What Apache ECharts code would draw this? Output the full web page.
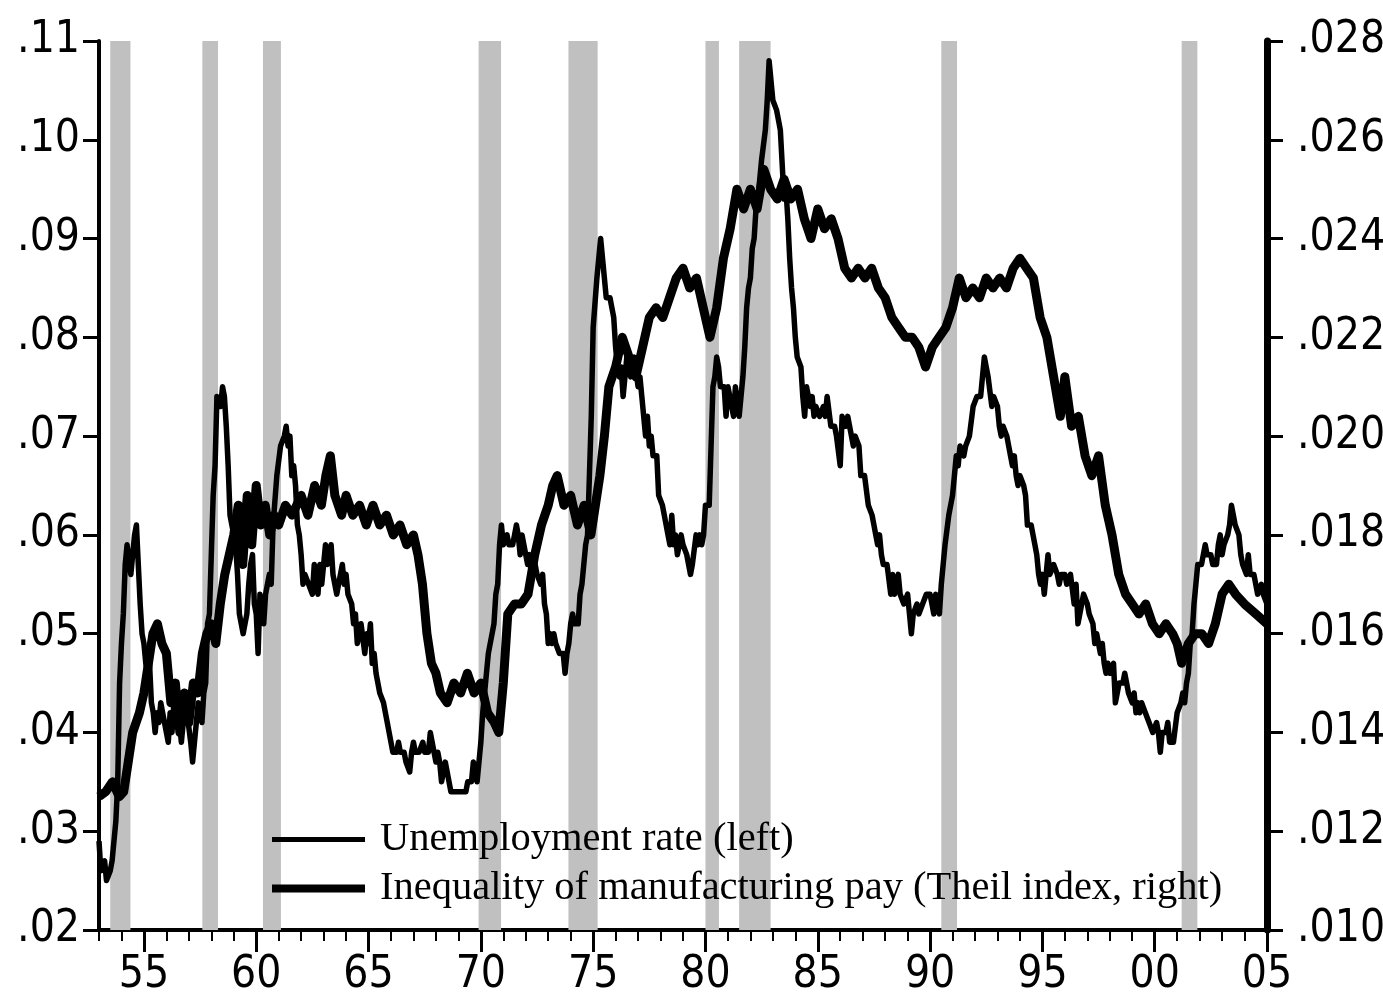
<!DOCTYPE html>
<html>
<head>
<meta charset="utf-8">
<script src="https://cdn.jsdelivr.net/npm/echarts@6/dist/echarts.min.js"></script>
<style>
  html, body { margin: 0; padding: 0; background: #fff; }
  #chart { width: 1383px; height: 1002px; }
</style>
</head>
<body>
<div id="chart"></div>
<script>
// monthly unemployment rate in percent, Jan 1953 .. Jan 2005 (one row per year)
const unempStart = 1953;
const unempRate = [
  2.9,2.6,2.6,2.7,2.5,2.5,2.6,2.7,2.9,3.1,3.5,4.5,
  4.9,5.2,5.7,5.9,5.9,5.6,5.8,6.0,6.1,5.7,5.3,5.0,
  4.9,4.7,4.6,4.7,4.3,4.2,4.0,4.2,4.1,4.3,4.2,4.2,
  4.0,3.9,4.2,4.0,4.3,4.3,4.4,4.1,3.9,3.9,4.3,4.2,
  4.2,3.9,3.7,3.9,4.1,4.3,4.2,4.1,4.4,4.5,5.1,5.2,
  5.8,6.4,6.7,7.4,7.4,7.3,7.5,7.4,7.1,6.7,6.2,6.2,
  6.0,5.9,5.6,5.2,5.1,5.0,5.1,5.2,5.5,5.7,5.8,5.3,
  5.2,4.8,5.4,5.2,5.1,5.4,5.5,5.6,5.5,6.1,6.1,6.6,
  6.6,6.9,6.9,7.0,7.1,6.9,7.0,6.6,6.7,6.5,6.1,6.0,
  5.8,5.5,5.6,5.6,5.5,5.5,5.4,5.7,5.6,5.4,5.7,5.5,
  5.7,5.9,5.7,5.7,5.9,5.6,5.6,5.4,5.5,5.5,5.7,5.5,
  5.6,5.4,5.4,5.3,5.1,5.2,4.9,5.0,5.1,5.1,4.8,5.0,
  4.9,5.1,4.7,4.8,4.6,4.6,4.4,4.4,4.3,4.2,4.1,4.0,
  4.0,3.8,3.8,3.8,3.9,3.8,3.8,3.8,3.7,3.7,3.6,3.8,
  3.9,3.8,3.8,3.8,3.8,3.9,3.8,3.8,3.8,4.0,3.9,3.8,
  3.7,3.8,3.7,3.5,3.5,3.7,3.7,3.5,3.4,3.4,3.4,3.4,
  3.4,3.4,3.4,3.4,3.4,3.5,3.5,3.5,3.7,3.7,3.5,3.5,
  3.9,4.2,4.4,4.6,4.8,4.9,5.0,5.1,5.4,5.5,5.9,6.1,
  5.9,5.9,6.0,5.9,5.9,5.9,6.0,6.1,6.0,5.8,6.0,6.0,
  5.8,5.7,5.8,5.7,5.7,5.7,5.6,5.6,5.5,5.6,5.3,5.2,
  4.9,5.0,4.9,5.0,4.9,4.9,4.8,4.8,4.8,4.6,4.8,4.9,
  5.1,5.2,5.1,5.1,5.1,5.4,5.5,5.5,5.9,6.0,6.6,7.2,
  8.1,8.1,8.6,8.8,9.0,8.8,8.6,8.4,8.4,8.4,8.3,8.2,
  7.9,7.7,7.6,7.7,7.4,7.6,7.8,7.8,7.6,7.7,7.8,7.8,
  7.5,7.6,7.4,7.2,7.0,7.2,6.9,7.0,6.8,6.8,6.8,6.4,
  6.4,6.3,6.3,6.1,6.0,5.9,6.2,5.9,6.0,5.8,5.9,6.0,
  5.9,5.9,5.8,5.8,5.6,5.7,5.7,6.0,5.9,6.0,5.9,6.0,
  6.3,6.3,6.3,6.9,7.5,7.6,7.8,7.7,7.5,7.5,7.5,7.2,
  7.5,7.4,7.4,7.2,7.5,7.5,7.2,7.4,7.6,7.9,8.3,8.5,
  8.6,8.9,9.0,9.3,9.4,9.6,9.8,9.8,10.1,10.4,10.8,10.8,
  10.4,10.4,10.3,10.2,10.1,10.1,9.4,9.5,9.2,8.8,8.5,8.3,
  8.0,7.8,7.8,7.7,7.4,7.2,7.5,7.5,7.3,7.4,7.2,7.3,
  7.3,7.2,7.2,7.3,7.2,7.4,7.4,7.1,7.1,7.1,7.0,7.0,
  6.7,7.2,7.2,7.1,7.2,7.2,7.0,6.9,7.0,7.0,6.9,6.6,
  6.6,6.6,6.6,6.3,6.3,6.2,6.1,6.0,5.9,6.0,5.8,5.7,
  5.7,5.7,5.7,5.4,5.6,5.4,5.4,5.6,5.4,5.4,5.3,5.3,
  5.4,5.2,5.0,5.2,5.2,5.3,5.2,5.2,5.3,5.3,5.4,5.4,
  5.4,5.3,5.2,5.4,5.4,5.2,5.5,5.7,5.9,5.9,6.2,6.3,
  6.4,6.6,6.8,6.7,6.9,6.9,6.8,6.9,6.9,7.0,7.0,7.3,
  7.3,7.4,7.4,7.4,7.6,7.8,7.7,7.6,7.6,7.3,7.4,7.4,
  7.3,7.1,7.0,7.1,7.1,7.0,6.9,6.8,6.7,6.8,6.6,6.5,
  6.6,6.6,6.5,6.4,6.1,6.1,6.1,6.0,5.9,5.8,5.6,5.5,
  5.6,5.4,5.4,5.8,5.6,5.6,5.7,5.7,5.6,5.5,5.6,5.6,
  5.6,5.5,5.5,5.6,5.6,5.3,5.5,5.1,5.2,5.2,5.4,5.4,
  5.3,5.2,5.2,5.1,4.9,5.0,4.9,4.8,4.9,4.7,4.6,4.7,
  4.6,4.6,4.7,4.3,4.4,4.5,4.5,4.5,4.6,4.5,4.4,4.4,
  4.3,4.4,4.2,4.3,4.2,4.3,4.3,4.2,4.2,4.1,4.1,4.0,
  4.0,4.1,4.0,3.8,4.0,4.0,4.0,4.1,3.9,3.9,3.9,3.9,
  4.2,4.2,4.3,4.4,4.3,4.5,4.6,4.9,5.0,5.3,5.5,5.7,
  5.7,5.7,5.7,5.9,5.8,5.8,5.8,5.7,5.7,5.7,5.9,6.0,
  5.8,5.9,5.9,6.0,6.1,6.3,6.2,6.1,6.1,6.0,5.8,5.7,
  5.7,5.6,5.8,5.6,5.6,5.6,5.5,5.4,5.4,5.5,5.4,5.4,
  5.3
];

// Theil index of manufacturing pay
const theilYears = [
  1953.0,1953.3,1953.6,1953.9,1954.1,1954.3,1954.5,1954.8,1955.0,1955.2,
  1955.4,1955.6,1955.8,1956.0,1956.2,1956.4,1956.6,1956.8,1957.0,1957.2,
  1957.4,1957.6,1957.8,1958.0,1958.2,1958.4,1958.6,1958.8,1959.0,1959.2,
  1959.4,1959.6,1959.8,1960.0,1960.2,1960.4,1960.6,1960.8,1961.0,1961.3,
  1961.6,1962.0,1962.3,1962.6,1962.9,1963.1,1963.3,1963.5,1963.8,1964.0,
  1964.3,1964.6,1964.9,1965.2,1965.5,1965.8,1966.1,1966.4,1966.7,1967.0,
  1967.2,1967.4,1967.6,1967.8,1968.0,1968.2,1968.5,1968.8,1969.1,1969.4,
  1969.7,1970.0,1970.3,1970.6,1970.8,1971.0,1971.2,1971.5,1971.8,1972.1,
  1972.4,1972.7,1973.0,1973.2,1973.4,1973.7,1974.0,1974.3,1974.6,1974.9,
  1975.1,1975.3,1975.5,1975.7,1976.0,1976.3,1976.6,1976.9,1977.2,1977.5,
  1977.8,1978.1,1978.4,1978.7,1979.0,1979.3,1979.6,1979.9,1980.2,1980.5,
  1980.8,1981.1,1981.4,1981.7,1982.0,1982.3,1982.6,1982.9,1983.2,1983.5,
  1983.8,1984.1,1984.4,1984.7,1985.0,1985.3,1985.6,1985.9,1986.2,1986.5,
  1986.8,1987.1,1987.4,1987.7,1988.0,1988.3,1988.6,1988.9,1989.2,1989.5,
  1989.8,1990.1,1990.4,1990.7,1991.0,1991.3,1991.6,1991.9,1992.2,1992.5,
  1992.8,1993.1,1993.4,1993.7,1994.0,1994.3,1994.6,1994.9,1995.2,1995.5,
  1995.8,1996.0,1996.3,1996.6,1996.9,1997.2,1997.5,1997.8,1998.1,1998.4,
  1998.7,1999.0,1999.3,1999.6,1999.9,2000.2,2000.5,2000.8,2001.0,2001.2,
  2001.5,2001.8,2002.1,2002.4,2002.7,2003.0,2003.3,2003.6,2004.0,2004.5,
  2005.0
];
const theilIndex = [
  .0127,.0128,.0130,.0127,.0128,.0134,.0140,.0144,.0148,.0154,
  .0160,.0162,.0158,.0156,.0146,.0150,.0140,.0148,.0142,.0150,
  .0148,.0156,.0160,.0162,.0158,.0166,.0172,.0176,.0180,.0186,
  .0174,.0188,.0178,.0190,.0182,.0186,.0180,.0184,.0182,.0186,
  .0184,.0188,.0184,.0190,.0186,.0192,.0196,.0188,.0184,.0188,
  .0184,.0186,.0182,.0186,.0182,.0184,.0180,.0182,.0178,.0180,
  .0176,.0170,.0160,.0154,.0152,.0148,.0146,.0150,.0148,.0152,
  .0148,.0150,.0144,.0142,.0140,.0150,.0164,.0166,.0166,.0168,
  .0176,.0182,.0186,.0190,.0192,.0186,.0188,.0182,.0186,.0180,
  .0186,.0192,.0200,.0210,.0214,.0220,.0216,.0212,.0218,.0224,
  .0226,.0224,.0228,.0232,.0234,.0230,.0232,.0226,.0220,.0226,
  .0236,.0242,.0250,.0246,.0250,.0246,.0254,.0250,.0248,.0252,
  .0248,.0250,.0244,.0240,.0246,.0242,.0244,.0240,.0234,.0232,
  .0234,.0232,.0234,.0230,.0228,.0224,.0222,.0220,.0220,.0218,
  .0214,.0218,.0220,.0222,.0226,.0232,.0228,.0230,.0228,.0232,
  .0230,.0232,.0230,.0234,.0236,.0234,.0232,.0224,.0220,.0212,
  .0204,.0212,.0202,.0204,.0196,.0192,.0196,.0186,.0180,.0172,
  .0168,.0166,.0164,.0166,.0162,.0160,.0162,.0160,.0158,.0154,
  .0158,.0160,.0160,.0158,.0162,.0168,.0170,.0168,.0166,.0164,
  .0162
];

// NBER recessions (shaded)
const recessions = [
  [1953.5, 1954.4], [1957.6, 1958.3], [1960.3, 1961.1], [1969.9, 1970.9],
  [1973.9, 1975.2], [1980.0, 1980.6], [1981.5, 1982.9], [1990.5, 1991.2],
  [2001.2, 2001.9]
];

const majorYears = [1955, 1960, 1965, 1970, 1975, 1980, 1985, 1990, 1995, 2000, 2005];
const allYears = [];
for (let y = 1953; y <= 2005; y++) allYears.push(y);

const unempData = unempRate.map((v, i) => [unempStart + i / 12, v / 100]);
const theilData = theilYears.map((y, i) => [y, theilIndex[i]]);

const numFont = "'Liberation Sans Narrow', 'Arial Narrow', 'DejaVu Sans Condensed', sans-serif";
const legFont = "'Liberation Serif', 'Times New Roman', serif";

const chart = echarts.init(document.getElementById('chart'));
chart.setOption({
  animation: false,
  backgroundColor: '#fff',
  grid: { left: 99, right: 116, top: 41, bottom: 72, containLabel: false, outerBoundsMode: 'none' },
  legend: {
    orient: 'vertical',
    left: 267,
    top: 814,
    itemWidth: 93,
    itemHeight: 8,
    itemGap: 8,
    symbolKeepAspect: true,
    data: [
      { name: 'Unemployment rate (left)', icon: 'path://M0 0H93V5H0Z' },
      { name: 'Inequality of manufacturing pay (Theil index, right)', icon: 'path://M0 0H93V8H0Z' }
    ],
    textStyle: { fontFamily: legFont, fontSize: 40.5, color: '#000', padding: [0, 0, 0, 10] }
  },
  xAxis: [
    {
      type: 'value', min: 1953, max: 2005,
      axisLine: { onZero: false, lineStyle: { color: '#000', width: 4 } },
      axisTick: { customValues: allYears, length: 11, lineStyle: { color: '#000', width: 2 } },
      axisLabel: {
        customValues: majorYears,
        formatter: v => String(v).slice(2),
        fontFamily: numFont, fontSize: 44, color: '#000', margin: 24
      },
      splitLine: { show: false }
    },
    {
      type: 'value', min: 1953, max: 2005, position: 'bottom',
      axisLine: { show: false },
      axisTick: { customValues: majorYears, length: 22, lineStyle: { color: '#000', width: 3 } },
      axisLabel: { show: false },
      splitLine: { show: false }
    }
  ],
  yAxis: [
    {
      type: 'value', min: 0.02, max: 0.11, interval: 0.01, position: 'left',
      axisLine: { show: true, lineStyle: { color: '#000', width: 4 } },
      axisTick: { show: true, length: 16, lineStyle: { color: '#000', width: 3 } },
      axisLabel: {
        formatter: v => v.toFixed(2).replace(/^0/, ''),
        fontFamily: numFont, fontSize: 44, color: '#000', margin: 19
      },
      splitLine: { show: false }
    },
    {
      type: 'value', min: 0.010, max: 0.028, interval: 0.002, position: 'right',
      axisLine: { show: true, lineStyle: { color: '#000', width: 7 } },
      axisTick: { show: true, length: 16, lineStyle: { color: '#000', width: 3 } },
      axisLabel: {
        formatter: v => v.toFixed(3).replace(/^0/, ''),
        fontFamily: numFont, fontSize: 44, color: '#000', margin: 30
      },
      splitLine: { show: false }
    }
  ],
  series: [
    {
      name: 'recessions', type: 'line', data: [], z: 1,
      markArea: {
        silent: true,
        itemStyle: { color: '#c0c0c0' },
        data: recessions.map(r => [{ xAxis: r[0] }, { xAxis: r[1] }])
      }
    },
    {
      name: 'Unemployment rate (left)', type: 'line', yAxisIndex: 0,
      data: unempData, showSymbol: false, symbol: 'none', z: 3,
      lineStyle: { color: '#000', width: 5.5, join: 'round' },
      itemStyle: { color: '#000' }
    },
    {
      name: 'Inequality of manufacturing pay (Theil index, right)', type: 'line', yAxisIndex: 1,
      data: theilData, showSymbol: false, symbol: 'none', z: 4,
      lineStyle: { color: '#000', width: 9, join: 'round' },
      itemStyle: { color: '#000' }
    }
  ]
});
</script>
</body>
</html>
